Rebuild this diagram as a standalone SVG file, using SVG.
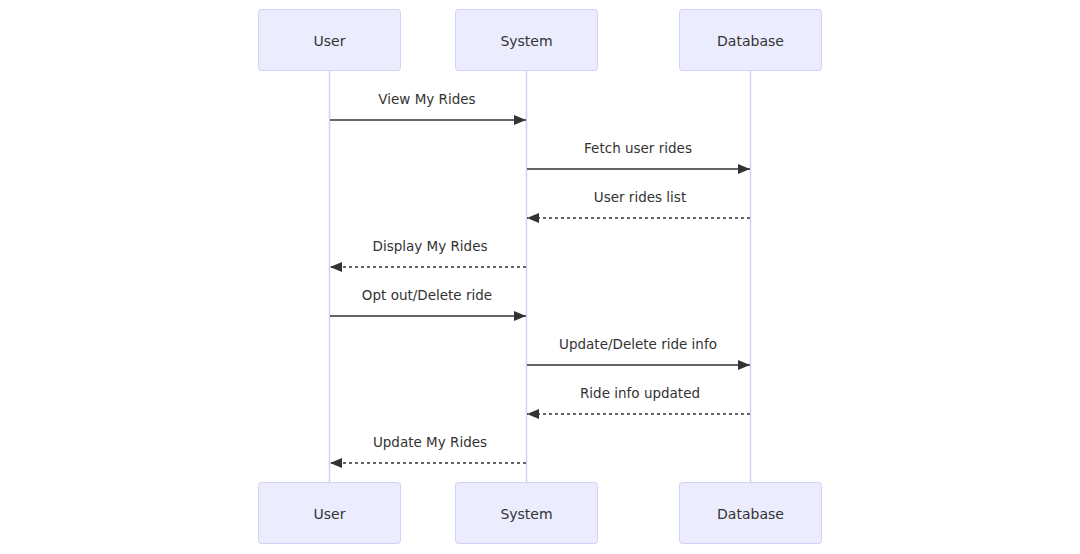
<svg xmlns="http://www.w3.org/2000/svg" width="1080" height="554" viewBox="0 0 1080 554">
<defs>
<style>
.actor{fill:#ECECFF;stroke:#d6cff5;stroke-width:1}
.at{font-family:"DejaVu Sans",sans-serif;font-size:14px;fill:#333;text-anchor:middle;dominant-baseline:central}
.life{stroke:#d6cff5;stroke-width:1.5}
.msg{stroke:#333;stroke-width:1.5;fill:none}
.dash{stroke-dasharray:3,3}
.mt{font-family:"DejaVu Sans",sans-serif;font-size:13.5px;fill:#333;text-anchor:middle;dominant-baseline:central}
</style>
<marker id="ah" viewBox="0 0 12 10" refX="12" refY="5" markerWidth="12" markerHeight="10" markerUnits="userSpaceOnUse" orient="auto-start-reverse">
<path d="M0,0 L12,5 L0,10 z" fill="#333"/>
</marker>
</defs>
<g id="lifelines">
<line class="life" x1="329.5" y1="70" x2="329.5" y2="482"/>
<line class="life" x1="526.5" y1="70" x2="526.5" y2="482"/>
<line class="life" x1="750.5" y1="70" x2="750.5" y2="482"/>
</g>
<g id="actor-user-top"><rect class="actor" x="258.5" y="9.5" width="142" height="61" rx="3"/><text class="at" x="329.5" y="41">User</text></g>
<g id="actor-system-top"><rect class="actor" x="455.5" y="9.5" width="142" height="61" rx="3"/><text class="at" x="526.5" y="41">System</text></g>
<g id="actor-database-top"><rect class="actor" x="679.5" y="9.5" width="142" height="61" rx="3"/><text class="at" x="750.5" y="41">Database</text></g>
<g id="actor-user-bottom"><rect class="actor" x="258.5" y="482.5" width="142" height="61" rx="3"/><text class="at" x="329.5" y="514">User</text></g>
<g id="actor-system-bottom"><rect class="actor" x="455.5" y="482.5" width="142" height="61" rx="3"/><text class="at" x="526.5" y="514">System</text></g>
<g id="actor-database-bottom"><rect class="actor" x="679.5" y="482.5" width="142" height="61" rx="3"/><text class="at" x="750.5" y="514">Database</text></g>
<g id="connectors">
<line class="msg" x1="330" y1="120" x2="526" y2="120" marker-end="url(#ah)"/>
<text class="mt" x="427" y="99">View My Rides</text>
<line class="msg" x1="527" y1="169" x2="750" y2="169" marker-end="url(#ah)"/>
<text class="mt" x="638" y="148">Fetch user rides</text>
<line class="msg dash" x1="750" y1="218" x2="527" y2="218" marker-end="url(#ah)"/>
<text class="mt" x="640" y="197">User rides list</text>
<line class="msg dash" x1="526" y1="267" x2="330" y2="267" marker-end="url(#ah)"/>
<text class="mt" x="430" y="246">Display My Rides</text>
<line class="msg" x1="330" y1="316" x2="526" y2="316" marker-end="url(#ah)"/>
<text class="mt" x="427" y="295">Opt out/Delete ride</text>
<line class="msg" x1="527" y1="365" x2="750" y2="365" marker-end="url(#ah)"/>
<text class="mt" x="638" y="344">Update/Delete ride info</text>
<line class="msg dash" x1="750" y1="414" x2="527" y2="414" marker-end="url(#ah)"/>
<text class="mt" x="640" y="393">Ride info updated</text>
<line class="msg dash" x1="526" y1="463" x2="330" y2="463" marker-end="url(#ah)"/>
<text class="mt" x="430" y="442">Update My Rides</text>
</g>
</svg>
